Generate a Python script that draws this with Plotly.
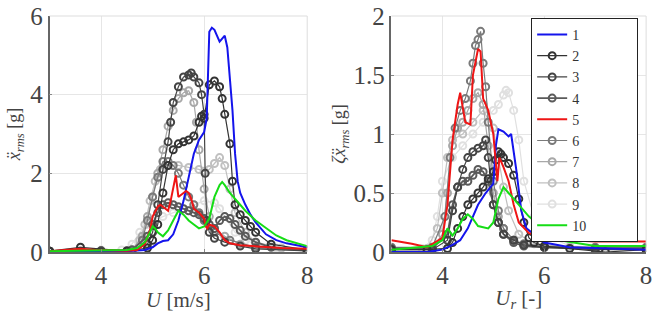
import plotly.graph_objects as go

# ---------------- data: left panel (U [m/s], x_rms [g]) ----------------
U1 = [3.0, 3.5, 4.0, 4.5, 4.7, 4.85, 5.0, 5.1, 5.2, 5.3, 5.4, 5.5, 5.6, 5.7, 5.8, 5.9, 6.0, 6.05, 6.1, 6.15, 6.2, 6.3, 6.4, 6.45, 6.5, 6.55, 6.6, 6.65, 6.7, 6.8, 6.9, 7.0, 7.2, 7.4, 7.6, 8.0]
X1 = [0.0, 0.0, 0.01, 0.02, 0.03, 0.05, 0.12, 0.22, 0.28, 0.3, 0.45, 0.8, 1.3, 1.9, 2.5, 2.85, 3.05, 3.4, 5.6, 5.7, 5.65, 5.35, 5.5, 5.2, 4.5, 3.6, 2.5, 1.8, 1.5, 1.2, 0.95, 0.75, 0.45, 0.3, 0.22, 0.12]

U2 = [3.0, 3.6, 4.5, 4.9, 5.0, 5.1, 5.2, 5.3, 5.4, 5.5, 5.6, 5.7, 5.8, 5.9, 5.95, 6.0, 6.1, 6.2, 6.3, 6.35, 6.4, 6.5, 6.55, 6.6, 6.7, 6.8, 6.9, 7.0, 7.3, 8.0]
X2 = [0.02, 0.12, 0.02, 0.1, 0.3, 0.7, 1.5, 2.2, 2.6, 2.75, 2.8, 2.85, 2.95, 3.3, 3.45, 3.4, 4.25, 4.35, 4.2, 3.9, 3.5, 2.75, 1.8, 1.2, 0.95, 0.8, 0.65, 0.5, 0.2, 0.05]

U3 = [3.0, 4.0, 4.5, 4.9, 5.0, 5.1, 5.2, 5.3, 5.35, 5.4, 5.5, 5.6, 5.7, 5.75, 5.8, 5.9, 5.95, 6.0, 6.02, 6.05, 6.1, 6.2, 6.4, 6.7, 7.0, 8.0]
X3 = [0.02, 0.02, 0.03, 0.2, 0.5, 1.2, 2.1, 2.8, 3.3, 3.8, 4.2, 4.45, 4.5, 4.55, 4.45, 4.3, 4.0, 3.5, 2.0, 0.8, 0.5, 0.35, 0.25, 0.15, 0.08, 0.03]

U4 = [3.0, 4.0, 4.6, 4.9, 5.0, 5.1, 5.2, 5.3, 5.4, 5.5, 5.6, 5.7, 5.8, 5.9, 6.0, 6.1, 6.2, 6.3, 6.4, 6.5, 6.6, 6.7, 6.8, 7.0, 7.3, 8.0]
X4 = [0.02, 0.03, 0.05, 0.4, 0.7, 1.0, 1.2, 1.25, 1.2, 1.15, 1.1, 1.05, 1.0, 0.95, 0.85, 0.7, 0.6, 0.8, 0.9, 0.85, 0.7, 0.55, 0.4, 0.25, 0.12, 0.05]

U5 = [3.0, 3.3, 3.6, 3.9, 4.2, 4.5, 4.7, 4.85, 4.95, 5.0, 5.1, 5.15, 5.2, 5.3, 5.35, 5.4, 5.45, 5.5, 5.55, 5.6, 5.65, 5.7, 5.75, 5.8, 5.9, 6.0, 6.03, 6.06, 6.1, 6.2, 6.3, 6.4, 6.5, 6.7, 7.0, 7.5, 8.0]
X5 = [0.02, 0.05, 0.08, 0.05, 0.04, 0.03, 0.05, 0.2, 0.55, 0.9, 1.15, 1.2, 1.15, 1.05, 1.3, 1.6, 1.95, 1.4, 1.45, 1.5, 1.55, 1.5, 1.35, 1.1, 1.0, 0.85, 0.65, 0.6, 0.7, 0.65, 0.5, 0.3, 0.22, 0.17, 0.14, 0.1, 0.08]

U6 = [3.0, 4.0, 4.6, 4.8, 4.9, 5.0, 5.1, 5.2, 5.3, 5.4, 5.5, 5.6, 5.7, 5.8, 5.9, 6.0, 6.2, 6.5, 7.0, 8.0]
X6 = [0.02, 0.03, 0.05, 0.3, 0.8, 1.4, 1.9, 2.3, 2.3, 2.2, 2.0, 1.7, 1.4, 1.2, 1.0, 0.8, 0.5, 0.3, 0.12, 0.04]

U7 = [3.0, 4.0, 4.6, 4.8, 4.9, 5.0, 5.1, 5.2, 5.3, 5.4, 5.5, 5.6, 5.7, 5.8, 5.85, 5.9, 6.0, 6.1, 6.2, 6.4, 6.7, 7.0, 8.0]
X7 = [0.02, 0.03, 0.05, 0.4, 0.9, 1.4, 2.0, 2.6, 3.2, 3.6, 3.9, 4.05, 4.1, 3.8, 3.3, 2.6, 1.6, 0.9, 0.6, 0.4, 0.2, 0.1, 0.03]

U8 = [3.0, 4.0, 4.6, 4.75, 4.85, 4.95, 5.05, 5.15, 5.3, 5.5, 5.7, 5.9, 6.0, 6.1, 6.2, 6.3, 6.4, 6.5, 6.6, 6.8, 7.0, 7.5, 8.0]
X8 = [0.02, 0.03, 0.05, 0.3, 0.7, 1.3, 1.8, 2.1, 2.2, 2.2, 2.15, 2.1, 2.05, 2.1, 2.25, 2.4, 2.2, 1.6, 1.0, 0.5, 0.25, 0.1, 0.05]

U9 = [3.0, 3.6, 4.0, 4.4, 4.6, 4.75, 4.9, 5.0, 5.2, 5.4, 5.6, 5.8, 6.0, 6.2, 6.3, 6.4, 6.6, 6.8, 7.0, 7.4, 8.0]
X9 = [0.02, 0.05, 0.05, 0.05, 0.2, 0.5, 0.7, 0.8, 0.9, 1.0, 1.1, 1.2, 1.3, 1.25, 1.1, 0.9, 0.5, 0.3, 0.2, 0.1, 0.05]

U10 = [3.0, 3.5, 4.0, 4.5, 4.7, 4.85, 4.95, 5.0, 5.05, 5.1, 5.2, 5.3, 5.4, 5.5, 5.6, 5.7, 5.8, 5.9, 6.0, 6.1, 6.2, 6.3, 6.35, 6.4, 6.5, 6.6, 6.7, 6.8, 7.0, 7.2, 7.4, 7.6, 7.8, 8.0]
X10 = [0.02, 0.03, 0.03, 0.05, 0.1, 0.25, 0.5, 0.65, 0.6, 0.5, 0.4, 0.55, 0.8, 1.05, 0.95, 0.8, 0.7, 0.6, 0.65, 0.85, 1.4, 1.7, 1.78, 1.7, 1.5, 1.35, 1.2, 1.05, 0.8, 0.6, 0.42, 0.3, 0.22, 0.15]

# ---------------- data: right panel (U_r [-], zeta*x_rms [g]) ----------------
UR1 = [3.0, 3.7, 4.0, 4.2, 4.35, 4.5, 4.7, 4.85, 5.0, 5.05, 5.1, 5.2, 5.3, 5.35, 5.45, 5.55, 5.65, 5.8, 6.0, 6.5, 8.0]
Z1 = [0.0, 0.0, 0.02, 0.06, 0.1, 0.2, 0.4, 0.5, 0.58, 0.9, 1.04, 1.02, 0.98, 1.0, 0.7, 0.35, 0.2, 0.15, 0.08, 0.04, 0.02]

UR2 = [3.0, 3.7, 4.1, 4.2, 4.3, 4.4, 4.5, 4.6, 4.7, 4.8, 4.9, 5.0, 5.05, 5.1, 5.15, 5.2, 5.3, 5.4, 5.5, 5.6, 5.7, 5.8, 6.0, 6.5, 7.2, 8.0]
Z2 = [0.02, 0.02, 0.03, 0.08, 0.2, 0.3, 0.4, 0.45, 0.5, 0.55, 0.62, 0.68, 0.78, 0.85, 0.83, 0.8, 0.75, 0.65, 0.45, 0.25, 0.12, 0.08, 0.05, 0.03, 0.0, 0.02]

UR3 = [3.0, 3.8, 4.1, 4.2, 4.3, 4.4, 4.5, 4.6, 4.7, 4.8, 4.85, 4.9, 5.0, 5.1, 5.2, 5.4, 5.6, 6.0, 7.0, 8.0]
Z3 = [0.02, 0.02, 0.1, 0.35, 0.55, 0.7, 0.8, 0.85, 0.88, 0.9, 0.95, 0.8, 0.4, 0.25, 0.15, 0.1, 0.06, 0.04, 0.02, 0.02]

UR4 = [3.0, 3.8, 4.1, 4.2, 4.3, 4.4, 4.5, 4.6, 4.7, 4.8, 4.9, 5.0, 5.1, 5.2, 5.4, 5.6, 6.0, 7.0, 8.0]
Z4 = [0.03, 0.03, 0.15, 0.4, 0.55, 0.6, 0.6, 0.65, 0.7, 0.68, 0.6, 0.4, 0.25, 0.15, 0.08, 0.05, 0.04, 0.03, 0.03]

UR5 = [3.0, 3.4, 3.7, 4.0, 4.1, 4.2, 4.3, 4.35, 4.45, 4.55, 4.6, 4.7, 4.75, 4.8, 4.9, 5.0, 5.08, 5.12, 5.2, 5.3, 5.4, 5.5, 5.7, 6.0, 6.5, 7.0, 8.0]
Z5 = [0.1, 0.07, 0.04, 0.12, 0.4, 0.95, 1.25, 1.35, 1.1, 1.08, 1.5, 1.72, 1.7, 1.3, 1.2, 1.0, 0.6, 0.8, 0.72, 0.6, 0.4, 0.25, 0.16, 0.12, 0.1, 0.09, 0.09]

UR6 = [3.0, 3.8, 4.05, 4.15, 4.25, 4.35, 4.45, 4.55, 4.6, 4.65, 4.7, 4.75, 4.8, 4.85, 4.9, 5.0, 5.1, 5.2, 5.4, 5.6, 6.0, 7.0, 8.0]
Z6 = [0.04, 0.04, 0.3, 0.8, 1.05, 1.2, 1.3, 1.45, 1.6, 1.75, 1.8, 1.87, 1.6, 1.4, 1.1, 0.6, 0.35, 0.2, 0.1, 0.07, 0.05, 0.04, 0.04]

UR7 = [3.0, 3.8, 4.0, 4.1, 4.2, 4.3, 4.4, 4.5, 4.6, 4.7, 4.8, 4.9, 5.0, 5.1, 5.2, 5.4, 5.6, 6.0, 7.0, 8.0]
Z7 = [0.03, 0.03, 0.15, 0.5, 0.9, 1.05, 1.1, 1.2, 1.3, 1.35, 1.25, 0.9, 0.5, 0.3, 0.2, 0.1, 0.06, 0.04, 0.03, 0.03]

UR8 = [3.0, 3.7, 3.9, 4.0, 4.1, 4.2, 4.4, 4.6, 4.8, 5.0, 5.1, 5.2, 5.3, 5.5, 5.8, 6.5, 8.0]
Z8 = [0.03, 0.03, 0.2, 0.5, 0.8, 0.95, 1.0, 1.1, 1.2, 1.05, 0.8, 0.55, 0.35, 0.15, 0.07, 0.04, 0.03]

UR9 = [3.0, 3.6, 3.8, 3.9, 4.0, 4.2, 4.4, 4.6, 4.8, 5.0, 5.1, 5.2, 5.25, 5.3, 5.4, 5.5, 5.6, 5.8, 6.0, 6.5, 8.0]
Z9 = [0.03, 0.03, 0.1, 0.3, 0.6, 0.8, 0.9, 1.0, 1.1, 1.2, 1.25, 1.33, 1.37, 1.35, 1.2, 0.95, 0.6, 0.3, 0.15, 0.05, 0.03]

UR10 = [3.0, 3.8, 4.0, 4.1, 4.2, 4.3, 4.4, 4.5, 4.6, 4.7, 4.9, 5.0, 5.1, 5.2, 5.3, 5.5, 5.7, 6.0, 6.3, 7.0, 8.0]
Z10 = [0.02, 0.05, 0.1, 0.2, 0.14, 0.2, 0.28, 0.32, 0.28, 0.22, 0.2, 0.25, 0.45, 0.55, 0.5, 0.4, 0.3, 0.2, 0.1, 0.05, 0.05]

NAMES = ["1", "2", "3", "4", "5", "6", "7", "8", "9", "10"]
XTICKS = [4, 6, 8]
YTICKS_L = [0, 2, 4, 6]
YTICKS_R = [0, 0.5, 1, 1.5, 2]
YTICKTEXT_R = ["0", "0.5", "1", "1.5", "2"]

LEFT = [(U1, X1), (U2, X2), (U3, X3), (U4, X4), (U5, X5), (U6, X6), (U7, X7), (U8, X8), (U9, X9), (U10, X10)]
RIGHT = [(UR1, Z1), (UR2, Z2), (UR3, Z3), (UR4, Z4), (UR5, Z5), (UR6, Z6), (UR7, Z7), (UR8, Z8), (UR9, Z9), (UR10, Z10)]

COLORS = ["#1414ec", "#333333", "#444444", "#5a5a5a", "#ee1515", "#7a7a7a", "#a8a8a8", "#c0c0c0", "#e0e0e0", "#16dd16"]
MARKED = [False, True, True, True, False, True, True, True, True, False]
WIDTHS = [2, 1.2, 1.2, 1.8, 2, 1.2, 1.2, 1.2, 1.2, 2]

# drawing order: grays (lightest first), then coloured lines on top
ORDER = [8, 7, 6, 5, 3, 2, 1, 0, 4, 9]

PAD = "\u00a0" * 13  # widens the legend box to the reference's width

fig = go.Figure()
for i in ORDER:
    for panel, (xs, ys) in (("1", LEFT[i]), ("2", RIGHT[i])):
        kw = dict(
            x=xs, y=ys, name=NAMES[i] + PAD, legendrank=i + 1,
            showlegend=(panel == "2"),
            line=dict(color=COLORS[i], width=WIDTHS[i]),
            xaxis="x" if panel == "1" else "x2",
            yaxis="y" if panel == "1" else "y2",
        )
        if MARKED[i]:
            kw["mode"] = "lines+markers"
            kw["marker"] = dict(symbol="circle-open", size=7, color=COLORS[i],
                                line=dict(width=2, color=COLORS[i]))
        else:
            kw["mode"] = "lines"
        fig.add_trace(go.Scatter(**kw))

FONT = "Liberation Serif, DejaVu Serif, serif"
axis_common = dict(showgrid=True, gridcolor="#e6e6e6", gridwidth=1, zeroline=False,
                   showline=True, linecolor="#666666", linewidth=1.5,
                   ticks="inside", ticklen=3, tickcolor="#888888",
                   tickfont=dict(family=FONT, size=25, color="#444444"))

fig.update_layout(
    width=665, height=312,
    margin=dict(l=0, r=0, t=16, b=60),
    paper_bgcolor="white", plot_bgcolor="white",
    font=dict(family=FONT, color="#444444"),
    xaxis=dict(domain=[50 / 665, 310 / 665], range=[3, 8], tickvals=XTICKS,
               title=dict(text="<i>U</i> [m/s]", font=dict(size=21), standoff=0),
               anchor="y", **axis_common),
    yaxis=dict(domain=[0, 1], range=[0, 6], tickvals=YTICKS_L,
               title=dict(text="<i>ẍ</i><sub><i>rms</i></sub> [g]", font=dict(size=18), standoff=5),
               anchor="x", **axis_common),
    xaxis2=dict(domain=[395 / 665, 652 / 665], range=[3, 8], tickvals=XTICKS,
                title=dict(text="<i>U</i><sub><i>r</i></sub> [-]", font=dict(size=21), standoff=0),
                anchor="y2", **axis_common),
    yaxis2=dict(domain=[0, 1], range=[0, 2], tickvals=YTICKS_R, ticktext=YTICKTEXT_R,
                title=dict(text="<i>ζẍ</i><sub><i>rms</i></sub> [g]", font=dict(size=18), standoff=3),
                anchor="x2", **axis_common),
    legend=dict(x=536 / 665, y=0.992, xanchor="left", yanchor="top",
                bgcolor="white", bordercolor="#222222", borderwidth=1,
                font=dict(family=FONT, size=14, color="#333333"),
                itemwidth=30, tracegroupgap=0, maxheight=300),
    showlegend=True,
)

# light top/right frame edges like the reference
for xr, yr in (("x domain", "y domain"), ("x2 domain", "y2 domain")):
    fig.add_shape(type="line", xref=xr, yref=yr, x0=0, x1=1, y0=1, y1=1,
                  line=dict(color="#dddddd", width=1))
    fig.add_shape(type="line", xref=xr, yref=yr, x0=1, x1=1, y0=0, y1=1,
                  line=dict(color="#dddddd", width=1))

fig.write_html("out.html")
